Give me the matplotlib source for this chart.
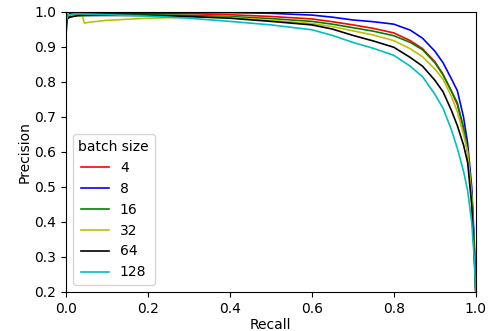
import matplotlib
matplotlib.use("Agg")
import matplotlib.pyplot as plt

# precision-recall curves per batch size
tail_r = [0.6, 0.65, 0.7, 0.75, 0.8, 0.84, 0.87, 0.9, 0.92, 0.94, 0.955, 0.97, 0.98, 0.99, 0.996, 1.0]

recall_4 = [0.0, 0.005, 0.01, 0.02, 0.1, 0.2, 0.3, 0.4, 0.5] + tail_r
prec_4 = [1.0, 0.99, 0.985, 0.99, 0.993, 0.995, 0.995, 0.992, 0.987,
          0.98, 0.972, 0.963, 0.953, 0.94, 0.918, 0.895, 0.858, 0.822, 0.775, 0.735, 0.665, 0.6, 0.48, 0.33, 0.2]

recall_8 = [0.0, 0.01, 0.05, 0.1, 0.2, 0.3, 0.4, 0.5] + tail_r
prec_8 = [1.0, 0.995, 0.995, 0.996, 0.997, 0.998, 0.998, 0.996,
          0.991, 0.985, 0.977, 0.972, 0.965, 0.948, 0.925, 0.888, 0.855, 0.81, 0.775, 0.7, 0.625, 0.5, 0.35, 0.2]

recall_16 = [0.0, 0.003, 0.01, 0.05, 0.1, 0.2, 0.3, 0.4, 0.5] + tail_r
prec_16 = [0.96, 0.985, 0.988, 0.99, 0.991, 0.992, 0.99, 0.987, 0.981,
           0.973, 0.965, 0.955, 0.945, 0.932, 0.913, 0.892, 0.855, 0.82, 0.775, 0.74, 0.67, 0.6, 0.48, 0.33, 0.2]

recall_32 = [0.0, 0.01, 0.04, 0.045, 0.06, 0.1, 0.2, 0.3, 0.4, 0.5] + tail_r
prec_32 = [1.0, 0.99, 0.99, 0.968, 0.971, 0.976, 0.982, 0.985, 0.984, 0.976,
           0.967, 0.958, 0.946, 0.934, 0.918, 0.895, 0.872, 0.837, 0.808, 0.76, 0.715, 0.65, 0.6, 0.47, 0.32, 0.2]

recall_64 = [0.0, 0.003, 0.01, 0.03, 0.1, 0.2, 0.3, 0.4, 0.5] + tail_r
prec_64 = [0.93, 0.98, 0.985, 0.99, 0.99, 0.99, 0.987, 0.982, 0.973,
           0.963, 0.951, 0.933, 0.917, 0.899, 0.87, 0.845, 0.805, 0.772, 0.72, 0.675, 0.62, 0.57, 0.45, 0.31, 0.2]

recall_128 = [0.0, 0.005, 0.02, 0.1, 0.2, 0.3, 0.4, 0.5] + tail_r
prec_128 = [0.97, 0.99, 0.995, 0.992, 0.988, 0.982, 0.973, 0.963,
            0.949, 0.933, 0.913, 0.896, 0.876, 0.845, 0.815, 0.765, 0.725, 0.665, 0.61, 0.545, 0.49, 0.4, 0.3, 0.2]

batch_sizes = ["4", "8", "16", "32", "64", "128"]
colors = ["r", "b", "g", "y", "k", "c"]
recalls = [recall_4, recall_8, recall_16, recall_32, recall_64, recall_128]
precisions = [prec_4, prec_8, prec_16, prec_32, prec_64, prec_128]

fig = plt.figure(figsize=(4.88, 3.31), dpi=100)
ax = fig.add_axes([0.135, 0.118, 0.84, 0.846])

for r, p, c, lab in zip(recalls, precisions, colors, batch_sizes):
    ax.plot(r, p, color=c, linewidth=1.2, label=lab)

ax.set_xlim(0.0, 1.0)
ax.set_ylim(0.2, 1.0)
ax.set_xticks([0.0, 0.2, 0.4, 0.6, 0.8, 1.0])
ax.set_yticks([0.2, 0.3, 0.4, 0.5, 0.6, 0.7, 0.8, 0.9, 1.0])
ax.set_xlabel("Recall", labelpad=2)
ax.set_ylabel("Precision", labelpad=2)
ax.legend(title="batch size", loc="lower left", fontsize=10, title_fontsize=10)

fig.savefig("out.png", dpi=100)
